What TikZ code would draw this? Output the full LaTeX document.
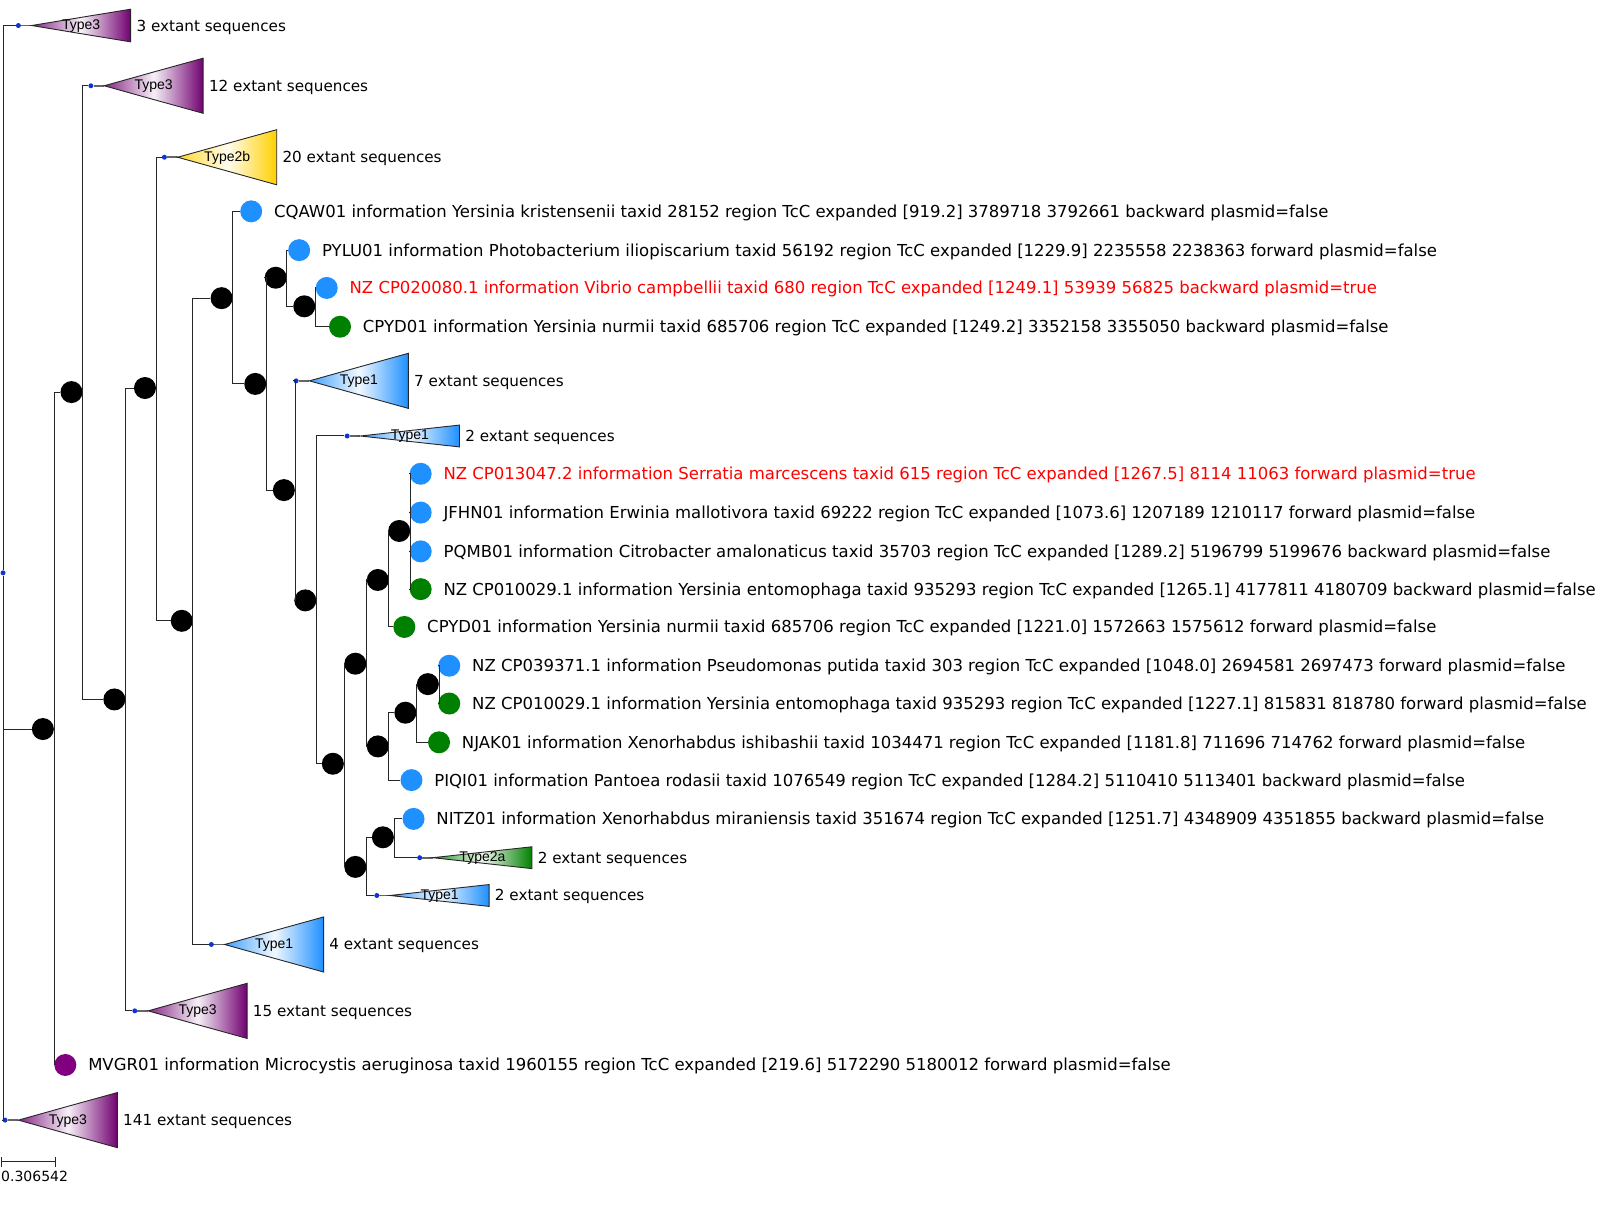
\documentclass[tikz,border=0pt]{standalone}
\usepackage{fontspec}
\setmainfont{DejaVu Sans}
\newfontfamily\typefont{Liberation Sans}
\usetikzlibrary{positioning,calc}

\definecolor{leafblue}{RGB}{30,144,255}
\definecolor{leafgreen}{RGB}{0,128,0}
\definecolor{leafpurple}{RGB}{128,0,128}
\definecolor{dotblue}{RGB}{16,52,210}
\definecolor{typethree}{RGB}{112,0,112}
\definecolor{typeone}{RGB}{30,144,255}
\definecolor{typetwob}{RGB}{255,208,0}
\definecolor{typetwoa}{RGB}{0,128,0}

\tikzset{
  branch/.style={draw=black!85, line width=1pt},
  stem/.style={draw=black!60, line width=1.6pt},
  inode/.style={circle, fill=black, minimum size=22pt, inner sep=0pt},
  leaf/.style={circle, fill=#1, minimum size=22pt, inner sep=0pt},
  cdot/.style={circle, fill=dotblue, minimum size=5pt, inner sep=0pt},
  seq/.style={anchor=west, inner sep=0pt, text height=11.9pt, text depth=0pt, font=\fontsize{16.5}{19}\selectfont},
  extant/.style={seq, text height=11pt, font=\fontsize{15.2}{18}\selectfont},
  typelab/.style={inner sep=0pt, font=\typefont\fontsize{14}{16}\selectfont},
  cladefill/.style={left color=#1!85!white, right color=#1, middle color=#1!6!white, draw=black!85, line width=0.9pt},
}

% collapsed clade: name, dot, width, half height, colour, type, text
\newcommand{\clade}[7]{%
  \node[cdot] (#1) at (#2) {};
  \coordinate (#1tip) at ($(#1)+(13,0)$);
  \draw[stem] (#1) -- (#1tip);
  \shadedraw[cladefill=#5] (#1tip) -- ++(#3,-#4) -- ++(0,2*#4) -- cycle;
  \node[typelab] (#1type) at ($(#1tip)+(#3/2,0.5)$) {#6};
  \node[extant] (#1lab) at ($(#1tip)+(#3+5.5,0)$) {#7};
}

\begin{document}
\begin{tikzpicture}[x=1.021pt, y=-1.021pt]
  \useasboundingbox (0,0) rectangle (1567,1185);

  % inner nodes
  \node[cdot] (root) at (3,561) {};
  \node[inode] (n1) at (42,714) {};
  \node[inode] (n2) at (70,384) {};
  \node[inode] (n3) at (112,685) {};
  \node[inode] (n4) at (142,380) {};
  \node[inode] (n5) at (178,608) {};
  \node[inode] (n6) at (217,292) {};
  \node[inode] (n7) at (250,376) {};
  \node[inode] (n8) at (270,272) {};
  \node[inode] (n9) at (278,480) {};
  \node[inode] (n10) at (298,300) {};
  \node[inode] (n11) at (299,588) {};
  \node[inode] (n12) at (326,748) {};
  \node[inode] (n13) at (348,650) {};
  \node[inode] (n14) at (348,849) {};
  \node[inode] (n15) at (370,568) {};
  \node[inode] (n16) at (370,731) {};
  \node[inode] (n17) at (391,520) {};
  \node[inode] (n18) at (397,698) {};
  \node[inode] (n19) at (419,670) {};
  \node[inode] (n20) at (375,820) {};

  % collapsed clades
  \clade{cA}{18,25}{97}{16}{typethree}{Type3}{3 extant sequences}
  \clade{cB}{89,84}{97}{27}{typethree}{Type3}{12 extant sequences}
  \clade{cC}{161,154}{97}{27}{typetwob}{Type2b}{20 extant sequences}
  \clade{cD}{290,373}{97}{27}{typeone}{Type1}{7 extant sequences}
  \clade{cE}{340,427}{97}{10.7}{typeone}{Type1}{2 extant sequences}
  \clade{cF}{411,840}{97}{10.7}{typetwoa}{Type2a}{2 extant sequences}
  \clade{cG}{369,877}{97}{10.7}{typeone}{Type1}{2 extant sequences}
  \clade{cH}{207,925}{97}{27}{typeone}{Type1}{4 extant sequences}
  \clade{cI}{132,990}{97}{27}{typethree}{Type3}{15 extant sequences}
  \clade{cJ}{5,1097}{97}{27}{typethree}{Type3}{141 extant sequences}

  % leaves
  \node[leaf=leafblue] (cqaw) at (246,207) {};
  \node[seq, right=11.5pt of cqaw] (cqawlab) {CQAW01 information Yersinia kristensenii taxid 28152 region TcC expanded [919.2] 3789718 3792661 backward plasmid=false};
  \node[leaf=leafblue] (pylu) at (293,245) {};
  \node[seq, right=11.5pt of pylu] (pylulab) {PYLU01 information Photobacterium iliopiscarium taxid 56192 region TcC expanded [1229.9] 2235558 2238363 forward plasmid=false};
  \node[leaf=leafblue] (vibrio) at (320,282) {};
  \node[seq, red, right=11.5pt of vibrio] (vibriolab) {NZ CP020080.1 information Vibrio campbellii taxid 680 region TcC expanded [1249.1] 53939 56825 backward plasmid=true};
  \node[leaf=leafgreen] (cpydA) at (333,320) {};
  \node[seq, right=11.5pt of cpydA] (cpydAlab) {CPYD01 information Yersinia nurmii taxid 685706 region TcC expanded [1249.2] 3352158 3355050 backward plasmid=false};
  \node[leaf=leafblue] (serratia) at (412,464) {};
  \node[seq, red, right=11.5pt of serratia] (serratialab) {NZ CP013047.2 information Serratia marcescens taxid 615 region TcC expanded [1267.5] 8114 11063 forward plasmid=true};
  \node[leaf=leafblue] (jfhn) at (412,502) {};
  \node[seq, right=11.5pt of jfhn] (jfhnlab) {JFHN01 information Erwinia mallotivora taxid 69222 region TcC expanded [1073.6] 1207189 1210117 forward plasmid=false};
  \node[leaf=leafblue] (pqmb) at (412,540) {};
  \node[seq, right=11.5pt of pqmb] (pqmblab) {PQMB01 information Citrobacter amalonaticus taxid 35703 region TcC expanded [1289.2] 5196799 5199676 backward plasmid=false};
  \node[leaf=leafgreen] (entoA) at (412,577) {};
  \node[seq, right=11.5pt of entoA] (entoAlab) {NZ CP010029.1 information Yersinia entomophaga taxid 935293 region TcC expanded [1265.1] 4177811 4180709 backward plasmid=false};
  \node[leaf=leafgreen] (cpydB) at (396,614) {};
  \node[seq, right=11.5pt of cpydB] (cpydBlab) {CPYD01 information Yersinia nurmii taxid 685706 region TcC expanded [1221.0] 1572663 1575612 forward plasmid=false};
  \node[leaf=leafblue] (putida) at (440,652) {};
  \node[seq, right=11.5pt of putida] (putidalab) {NZ CP039371.1 information Pseudomonas putida taxid 303 region TcC expanded [1048.0] 2694581 2697473 forward plasmid=false};
  \node[leaf=leafgreen] (entoB) at (440,689) {};
  \node[seq, right=11.5pt of entoB] (entoBlab) {NZ CP010029.1 information Yersinia entomophaga taxid 935293 region TcC expanded [1227.1] 815831 818780 forward plasmid=false};
  \node[leaf=leafgreen] (njak) at (430,727) {};
  \node[seq, right=11.5pt of njak] (njaklab) {NJAK01 information Xenorhabdus ishibashii taxid 1034471 region TcC expanded [1181.8] 711696 714762 forward plasmid=false};
  \node[leaf=leafblue] (piqi) at (403,764) {};
  \node[seq, right=11.5pt of piqi] (piqilab) {PIQI01 information Pantoea rodasii taxid 1076549 region TcC expanded [1284.2] 5110410 5113401 backward plasmid=false};
  \node[leaf=leafblue] (nitz) at (405,802) {};
  \node[seq, right=11.5pt of nitz] (nitzlab) {NITZ01 information Xenorhabdus miraniensis taxid 351674 region TcC expanded [1251.7] 4348909 4351855 backward plasmid=false};
  \node[leaf=leafpurple] (mvgr) at (64,1043) {};
  \node[seq, right=11.5pt of mvgr] (mvgrlab) {MVGR01 information Microcystis aeruginosa taxid 1960155 region TcC expanded [219.6] 5172290 5180012 forward plasmid=false};

  % branches
  \draw[branch] (root) |- (cA);
  \draw[branch] (root) |- (n1);
  \draw[branch] (root) |- (cJ);
  \draw[branch] (n1.east) |- (n2);
  \draw[branch] (n1.east) |- (mvgr);
  \draw[branch] (n2.east) |- (cB);
  \draw[branch] (n2.east) |- (n3);
  \draw[branch] (n3.east) |- (n4);
  \draw[branch] (n3.east) |- (cI);
  \draw[branch] (n4.east) |- (cC);
  \draw[branch] (n4.east) |- (n5);
  \draw[branch] (n5.east) |- (n6);
  \draw[branch] (n5.east) |- (cH);
  \draw[branch] (n6.east) |- (cqaw);
  \draw[branch] (n6.east) |- (n7);
  \draw[branch] (n7.east) |- (n8);
  \draw[branch] (n7.east) |- (n9);
  \draw[branch] (n8.east) |- (pylu);
  \draw[branch] (n8.east) |- (n10);
  \draw[branch] (n10.east) |- (vibrio);
  \draw[branch] (n10.east) |- (cpydA);
  \draw[branch] (n9.east) |- (cD);
  \draw[branch] (n9.east) |- (n11);
  \draw[branch] (n11.east) |- (cE);
  \draw[branch] (n11.east) |- (n12);
  \draw[branch] (n12.east) |- (n13);
  \draw[branch] (n12.east) |- (n14);
  \draw[branch] (n13.east) |- (n15);
  \draw[branch] (n13.east) |- (n16);
  \draw[branch] (n15.east) |- (n17);
  \draw[branch] (n15.east) |- (cpydB);
  \draw[branch] (n17.east) |- (serratia);
  \draw[branch] (n17.east) |- (jfhn);
  \draw[branch] (n17.east) |- (pqmb);
  \draw[branch] (n17.east) |- (entoA);
  \draw[branch] (n16.east) |- (n18);
  \draw[branch] (n16.east) |- (piqi);
  \draw[branch] (n18.east) |- (n19);
  \draw[branch] (n18.east) |- (njak);
  \draw[branch] (n19.east) |- (putida);
  \draw[branch] (n19.east) |- (entoB);
  \draw[branch] (n14.east) |- (n20);
  \draw[branch] (n14.east) |- (cG);
  \draw[branch] (n20.east) |- (nitz);
  \draw[branch] (n20.east) |- (cF);

  % scale bar
  \coordinate (sbl) at (1,1138);
  \coordinate (sbr) at (54,1138);
  \draw[branch] (sbl) -- (sbr);
  \draw[branch] ($(sbl)+(0,-5)$) -- ($(sbl)+(0,5)$);
  \draw[branch] ($(sbr)+(0,-5)$) -- ($(sbr)+(0,5)$);
  \node[anchor=west, inner sep=0pt, font=\fontsize{14}{16}\selectfont] (sblab) at (1,1152) {0.306542};
\end{tikzpicture}
\end{document}
